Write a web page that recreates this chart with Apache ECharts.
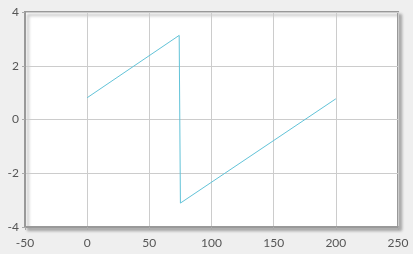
<!DOCTYPE html>
<html><head><meta charset="utf-8">
<script src="https://cdn.jsdelivr.net/npm/echarts@6/dist/echarts.min.js"></script>
<style>html,body{margin:0;padding:0;background:#efefef;}#c{width:413px;height:254px;}</style>
</head><body><div id="c"></div>
<script>
const xValues = [0, 74, 75, 200];
const yValues = [0.81, 3.13, -3.11, 0.77];
const xTicks = [-50, 0, 50, 100, 150, 200, 250];
const yTicks = [-4, -2, 0, 2, 4];

const chart = echarts.init(document.getElementById('c'), null, {renderer: 'canvas'});
const axisLabel = {color: '#555', fontSize: 12, fontFamily: 'Lato, sans-serif'};
chart.setOption({
  backgroundColor: '#efefef',
  animation: false,
  grid: {
    left: 25, right: 15, top: 12, bottom: 27,
    show: true, backgroundColor: '#fff',
    borderColor: '#999', borderWidth: 2,
    shadowColor: 'rgba(0,0,0,0.25)', shadowBlur: 3, shadowOffsetX: 3, shadowOffsetY: 3
  },
  xAxis: {
    type: 'value', min: xTicks[0], max: xTicks[xTicks.length-1], interval: 50,
    axisLine: {show: true, onZero: false, lineStyle: {color: '#999', width: 2}},
    axisTick: {show: true, length: 3, lineStyle: {color: '#aaa'}},
    splitLine: {lineStyle: {color: '#ccc'}},
    axisLabel: Object.assign({margin: 10}, axisLabel)
  },
  yAxis: {
    type: 'value', min: yTicks[0], max: yTicks[yTicks.length-1], interval: 2,
    axisLine: {show: true, onZero: false, lineStyle: {color: '#999', width: 2}},
    axisTick: {show: true, length: 3, lineStyle: {color: '#aaa'}},
    splitLine: {lineStyle: {color: '#ccc'}},
    axisLabel: Object.assign({margin: 6}, axisLabel)
  },
  series: [{
    type: 'line',
    data: xValues.map((x, i) => [x, yValues[i]]),
    showSymbol: false,
    lineStyle: {color: '#62c3d8', width: 1},
    itemStyle: {color: '#62c3d8'}
  }]
});
</script></body></html>
